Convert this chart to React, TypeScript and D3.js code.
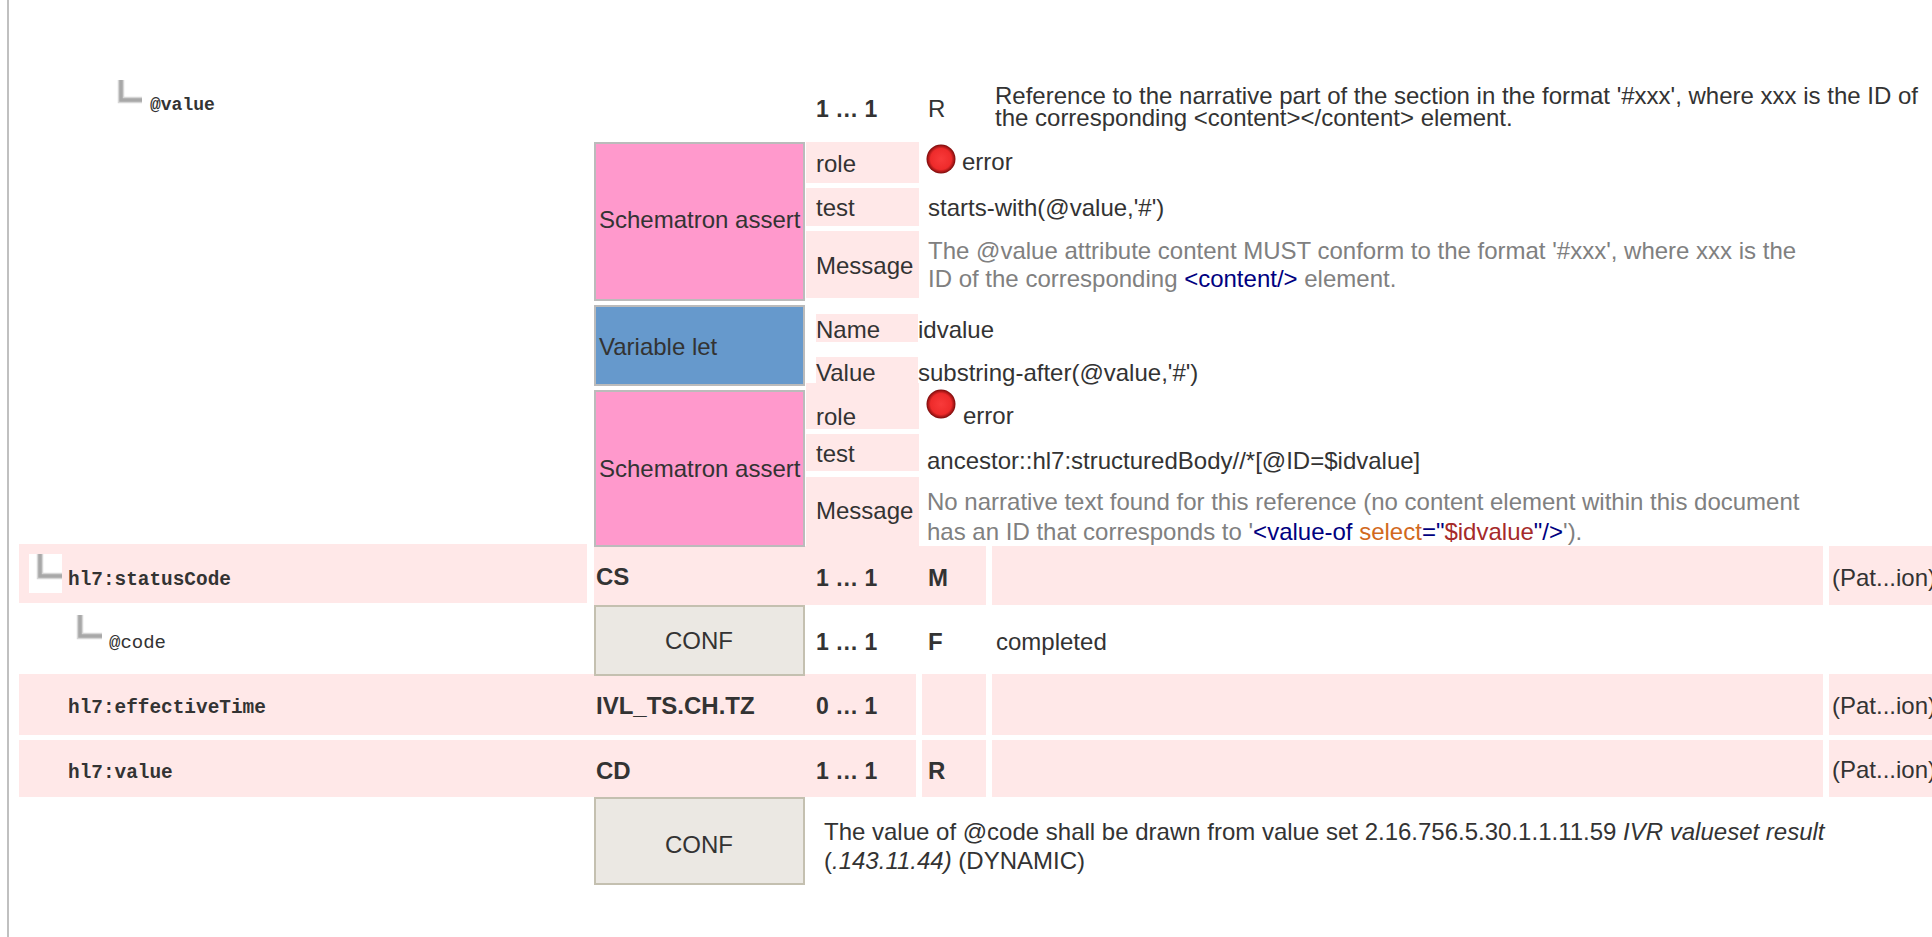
import { useEffect, useRef } from "react";
import * as d3 from "d3";

// table content
const elementNames = ["@value", "hl7:statusCode", "@code", "hl7:effectiveTime", "hl7:value"];
const dataTypes = ["CS", "IVL_TS.CH.TZ", "CD"];
const cardinalities = ["1 … 1", "1 … 1", "1 … 1", "0 … 1", "1 … 1"];
const conformances = ["R", "M", "F", "", "R"];
const blockLabels = ["Schematron assert", "Variable let", "Schematron assert"];
const assertLabels = ["role", "test", "Message"];
const letLabels = ["Name", "Value"];
const letValues = ["idvalue", "substring-after(@value,'#')"];
const testValues = ["starts-with(@value,'#')", "ancestor::hl7:structuredBody//*[@ID=$idvalue]"];
const refShort = "(Pat...ion)";
const descriptionLines = [
  "Reference to the narrative part of the section in the format '#xxx', where xxx is the ID of",
  "the corresponding <content></content> element.",
];

type Run = { t: string; c?: string; i?: boolean };
const GREY = "#808080";
const NAVY = "#000080";
const ORANGE = "#d2691e";
const BROWN = "#a52a2a";

const messageOne: Run[][] = [
  [{ t: "The @value attribute content MUST conform to the format '#xxx', where xxx is the", c: GREY }],
  [
    { t: "ID of the corresponding ", c: GREY },
    { t: "<content/>", c: NAVY },
    { t: " element.", c: GREY },
  ],
];
const messageTwo: Run[][] = [
  [{ t: "No narrative text found for this reference (no content element within this document", c: GREY }],
  [
    { t: "has an ID that corresponds to '", c: GREY },
    { t: "<value-of ", c: NAVY },
    { t: "select", c: ORANGE },
    { t: "=\"", c: NAVY },
    { t: "$idvalue", c: BROWN },
    { t: "\"/>", c: NAVY },
    { t: "').", c: GREY },
  ],
];
const valueSetLines: Run[][] = [
  [
    { t: "The value of @code shall be drawn from value set 2.16.756.5.30.1.1.11.59 " },
    { t: "IVR valueset result", i: true },
  ],
  [{ t: ".143.11.44)", i: true }, { t: " (DYNAMIC)" }],
];

// layout: named column and row edges
const xKeys = ["rule", "rowL", "glyph1", "name", "glyph2", "glyph3", "at", "rowR", "type", "typeR", "label", "labelR", "card", "cardR", "conf", "confR", "desc", "descR", "ref"];
const xVals = [7, 19, 37, 68, 77, 118, 150, 587, 594, 805, 816, 918, 806, 916, 928, 986, 995, 1823, 1829];
const x = d3.scaleOrdinal<string, number>().domain(xKeys).range(xVals);

const FONT = "'Liberation Sans', Arial, sans-serif";
const MONO = "'Liberation Mono', 'Courier New', monospace";
const INK = "#333333";
const PINK = "#ffe8e8";

export default function App() {
  const svgRef = useRef<SVGSVGElement>(null);

  useEffect(() => {
    if (!svgRef.current) return;
    const svg = d3.select(svgRef.current);
    svg.selectAll("*").remove();

    const defs = svg.append("defs");
    const grad = defs.append("radialGradient").attr("id", "dot").attr("cx", "50%").attr("cy", "50%").attr("r", "50%");
    grad.append("stop").attr("offset", "0%").attr("stop-color", "#f83a3a");
    grad.append("stop").attr("offset", "72%").attr("stop-color", "#ee2b2b");
    grad.append("stop").attr("offset", "100%").attr("stop-color", "#7a0a0a");

    const rect = (x0: number, x1: number, y0: number, y1: number, fill: string, stroke?: string, sw = 2) => {
      const r = svg.append("rect").attr("x", x0).attr("y", y0).attr("width", x1 - x0).attr("height", y1 - y0).attr("fill", fill);
      if (stroke) r.attr("stroke", stroke).attr("stroke-width", sw);
    };

    const text = (t: string | Run[], px: number, py: number, opts: { size?: number; bold?: boolean; anchor?: string; family?: string; fill?: string } = {}) => {
      const el = svg
        .append("text")
        .attr("x", px)
        // sans baselines sit a little lower than first read
        .attr("y", opts.family ? py : py + 1.5)
        .attr("font-family", opts.family ?? FONT)
        .attr("font-size", opts.size ?? 24)
        .attr("font-weight", opts.bold ? "bold" : "normal")
        .attr("text-anchor", opts.anchor ?? "start")
        .attr("fill", opts.fill ?? INK)
        .style("white-space", "pre");
      const runs = typeof t === "string" ? [{ t } as Run] : t;
      runs.forEach((r) => {
        el.append("tspan")
          .attr("fill", r.c ?? opts.fill ?? INK)
          .attr("font-style", r.i ? "italic" : "normal")
          .text(r.t);
      });
    };

    // tree corner, soft grey L
    const corner = (x0: number, x1: number, y0: number, y1: number) => {
      const d = d3.line()([[x0 + 3, y0], [x0 + 3, y1 - 3], [x1, y1 - 3]]);
      [["#d6d6d6", 6.5], ["#a8a8a8", 3.5]].forEach(([c, w]) => {
        svg.append("path").attr("d", d).attr("fill", "none").attr("stroke", c as string).attr("stroke-width", w as number);
      });
    };

    const dot = (cx: number, cy: number) => {
      svg.append("circle").attr("cx", cx).attr("cy", cy).attr("r", 14.5).attr("fill", "url(#dot)");
    };

    // page rule on the left
    rect(x("rule"), x("rule") + 2, 0, 937, "#c0c0c0");

    // pink row bands
    rect(x("rowL"), x("rowR"), 544, 603, PINK);
    rect(x("type"), x("confR"), 546, 605, PINK);
    rect(x("rowL"), x("cardR"), 674, 735, PINK);
    rect(x("conf") - 6, x("confR"), 674, 735, PINK);
    rect(x("rowL"), x("cardR"), 740, 797, PINK);
    rect(x("conf") - 6, x("confR"), 740, 797, PINK);
    [[546, 605], [674, 735], [740, 797]].forEach(([a, b]) => {
      rect(x("desc") - 3, x("descR"), a, b, PINK);
      rect(x("ref"), 1932, a, b, PINK);
    });

    // coloured blocks on the type column
    rect(x("type") + 1, x("typeR") - 1, 143, 300, "#ff99cc", "#bbbbbb");
    rect(x("type") + 1, x("typeR") - 1, 306, 385, "#6699cc", "#bbbbbb");
    rect(x("type") + 1, x("typeR") - 1, 391, 546, "#ff99cc", "#bbbbbb");
    rect(x("type") + 1, x("typeR") - 1, 606, 675, "#ebe8e3", "#c4c0b0");
    rect(x("type") + 1, x("typeR") - 1, 798, 884, "#ebe8e3", "#c4c0b0");

    // label cells next to the blocks
    [[142, 183], [188, 226], [231, 298], [383, 429], [434, 471], [477, 546]].forEach(([a, b]) => {
      rect(x("typeR") + 1, 919, a, b, PINK);
    });
    rect(x("label"), x("labelR"), 314, 342, PINK);
    rect(x("label"), x("labelR"), 357, 383, PINK);

    // white box behind the first tree corner
    rect(29, 62, 554, 593, "#ffffff");
    corner(x("glyph3"), 142, 80, 103);
    corner(x("glyph1"), 62, 554, 579);
    corner(x("glyph2"), 102, 615, 639);

    // element names
    text(elementNames[0], x("at"), 110, { family: MONO, bold: true, size: 18 });
    text(elementNames[1], x("name"), 585, { family: MONO, bold: true, size: 19.4 });
    text(elementNames[2], 109, 648, { family: MONO, size: 19 });
    text(elementNames[3], x("name"), 713, { family: MONO, bold: true, size: 19.4 });
    text(elementNames[4], x("name"), 778, { family: MONO, bold: true, size: 19.4 });

    // data types
    [583, 712, 777].forEach((y, i) => text(dataTypes[i], 596, y, { bold: true }));
    text("CONF", 699, 647, { anchor: "middle" });
    text("CONF", 699, 851, { anchor: "middle" });

    // cardinality, conformance
    [115, 584, 648, 712, 777].forEach((y, i) => {
      text(cardinalities[i], x("label"), y, { bold: true, size: 23 });
      text(conformances[i], x("conf"), y, { bold: i > 0 });
    });

    // descriptions
    text(descriptionLines[0], x("desc"), 102);
    text(descriptionLines[1], x("desc"), 124);
    text("completed", 996, 648);
    [584, 712, 776].forEach((y) => text(refShort, 1832, y));

    // block labels
    text(blockLabels[0], 599, 226);
    text(blockLabels[1], 599, 353);
    text(blockLabels[2], 599, 475);

    // first assert
    text(assertLabels[0], x("label"), 170);
    text(assertLabels[1], x("label"), 214);
    text(assertLabels[2], x("label"), 272);
    dot(941, 159);
    text("error", 962, 168);
    text(testValues[0], x("conf"), 214);
    text(messageOne[0], x("conf"), 257);
    text(messageOne[1], x("conf"), 285);

    // let
    text(letLabels[0], x("label"), 336);
    text(letLabels[1], x("label"), 379);
    text(letValues[0], x("labelR"), 336);
    text(letValues[1], x("labelR"), 379);

    // second assert
    text(assertLabels[0], x("label"), 423);
    text(assertLabels[1], x("label"), 460);
    text(assertLabels[2], x("label"), 517);
    dot(941, 404);
    text("error", 963, 422);
    text(testValues[1], x("conf") - 1, 467);
    text(messageTwo[0], x("conf") - 1, 508);
    text(messageTwo[1], x("conf") - 1, 538);

    // value set conformance
    text(valueSetLines[0], 824, 838);
    text([{ t: "(" }, ...valueSetLines[1]], 824, 867);
  }, []);

  return (
    <svg
      ref={svgRef}
      width={1932}
      height={937}
      style={{ position: "absolute", left: 0, top: 0, display: "block", background: "#ffffff" }}
    />
  );
}
